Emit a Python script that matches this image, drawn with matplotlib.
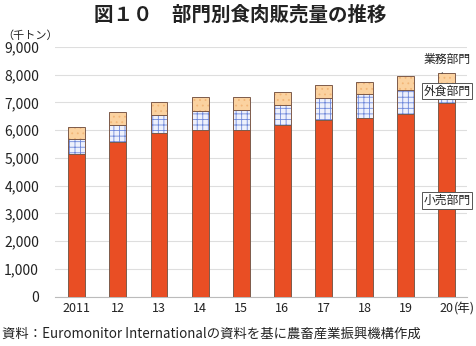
import matplotlib
matplotlib.use("Agg")
import matplotlib.pyplot as plt
import numpy as np

plt.rcParams['font.family'] = ['Noto Sans CJK JP', 'DejaVu Sans']
plt.rcParams['hatch.linewidth'] = 0.6

years = ["2011", "12", "13", "14", "15", "16", "17", "18", "19", "20"]
retail = [5140, 5570, 5880, 6000, 6010, 6170, 6370, 6430, 6590, 6970]        # 小売部門
foodservice = [550, 620, 650, 700, 730, 750, 790, 870, 860, 660]             # 外食部門
business = [440, 480, 480, 480, 470, 440, 460, 450, 510, 430]                # 業務部門
yticks = [0, 1000, 2000, 3000, 4000, 5000, 6000, 7000, 8000, 9000]

W, H = 476, 346
fig = plt.figure(figsize=(W / 100, H / 100), dpi=100)
fig.patch.set_facecolor('white')

ax_l, ax_r, ax_b, ax_t = 55, 467, 296.5, 47
ax = fig.add_axes([ax_l / W, (H - ax_b) / H, (ax_r - ax_l) / W, (ax_b - ax_t) / H])

x = np.arange(len(years))
bw = 0.41
edge = '#7d5b4b'
retail_a = np.array(retail)
food_a = np.array(foodservice)
bus_a = np.array(business)

ax.bar(x, retail_a, bw, color='#e94e24', edgecolor=edge, linewidth=0.7, zorder=3)
# checkered fill for 外食部門
ax.bar(x, food_a, bw, bottom=retail_a, color='#eef1fc', edgecolor='#6f88da',
       linewidth=0, hatch='+++', zorder=3)
ax.bar(x, food_a, bw, bottom=retail_a, color='none', edgecolor=edge, linewidth=0.7, zorder=4)
# dotted fill for 業務部門
ax.bar(x, bus_a, bw, bottom=retail_a + food_a, color='#fbd2a0', edgecolor='#f2b678',
       linewidth=0, hatch='...', zorder=3)
ax.bar(x, bus_a, bw, bottom=retail_a + food_a, color='none', edgecolor=edge, linewidth=0.7, zorder=4)

ax.set_xlim(-0.53, 9.49)
ax.set_ylim(0, 9000)
ax.set_yticks(yticks)
ax.set_yticklabels([f"{v:,}" for v in yticks], fontsize=10, color='#222222')
ax.set_xticks(x)
ax.set_xticklabels(years, fontsize=9, color='#222222')
ax.tick_params(axis='y', length=0, pad=11.5)
ax.tick_params(axis='x', length=0, pad=4)
ax.grid(axis='y', color='#dedede', linewidth=0.8, zorder=0)
for s in ['top', 'right', 'left']:
    ax.spines[s].set_visible(False)
ax.spines['bottom'].set_color('#bbbbbb')
ax.spines['bottom'].set_linewidth(0.8)

# year unit after last tick
ax.text(9.17, -0.024, "(年)", transform=ax.get_xaxis_transform(), fontsize=9,
        ha='left', va='top', color='#222222')

fig.text(240 / W, 1 - 15 / H, "図１０　部門別食肉販売量の推移", fontsize=14,
         fontweight='bold', ha='center', va='center', color='#222222')
fig.text(2 / W, 1 - 36 / H, "（千トン）", fontsize=8, ha='left', va='center', color='#222222')
fig.text(2 / W, 1 - 334 / H, "資料：Euromonitor Internationalの資料を基に農畜産業振興機構作成",
         fontsize=9.6, ha='left', va='center', color='#222222')

# segment labels
last = len(years) - 1
ax.annotate("業務部門", xy=(last - 0.12, retail[last] + foodservice[last] + business[last] * 0.95),
            xytext=(last, 8560), fontsize=8.5, ha='center', va='center', color='#222222',
            arrowprops=dict(arrowstyle='-', color='#444444', lw=0.6, shrinkA=3, shrinkB=0),
            zorder=6)
ax.text(last, 7420, "外食部門", fontsize=8.5, ha='center', va='center', color='#222222',
        bbox=dict(boxstyle='square,pad=0.15', fc='white', ec='#555555', lw=0.7), zorder=6)
ax.text(last, 3470, "小売部門", fontsize=8.5, ha='center', va='center', color='#222222',
        bbox=dict(boxstyle='square,pad=0.15', fc='white', ec='#555555', lw=0.7), zorder=6)

fig.savefig("out.png", dpi=100)
